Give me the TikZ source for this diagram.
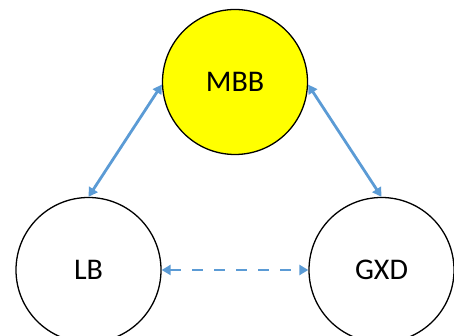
\documentclass[tikz,border=0pt]{standalone}
\usepackage{fontspec}
\setmainfont{Carlito}
\usetikzlibrary{arrows.meta}
\definecolor{arrblue}{RGB}{91,155,213}
\definecolor{mbbyellow}{RGB}{255,255,0}
\tikzset{
  bubble/.style={circle,draw=black,line width=1.3pt,minimum size=145pt,inner sep=0pt,font=\fontsize{30}{36}\selectfont},
  link/.style={draw=arrblue,line width=2.8pt,{Triangle[length=9pt,width=10pt]}-{Triangle[length=9pt,width=10pt]}},
  dashlink/.style={link,dash pattern=on 11pt off 11pt}
}
\begin{document}
\begin{tikzpicture}[x=1pt,y=1pt]
\useasboundingbox (0,0) rectangle (454,336);
\node[bubble,fill=mbbyellow] (mbb) at (235,254) {MBB};
\node[bubble] (lb) at (88.5,66) {LB};
\node[bubble] (gxd) at (381.5,66) {GXD};
\draw[link] (mbb.182) -- (lb.90);
\draw[link] (mbb.358) -- (gxd.90);
\draw[dashlink] (lb.0) -- (gxd.180);
\end{tikzpicture}
\end{document}
